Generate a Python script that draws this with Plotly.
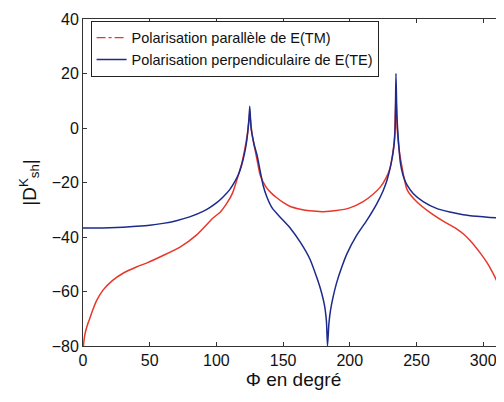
import plotly.graph_objects as go

# angle (degrees) and |D_sh^K| values
phi_tm = [0.3, 1, 2, 3.5, 5, 7.5, 10, 15, 22, 30, 40, 48, 60, 73, 85, 97.5, 103, 108,
          112, 116, 119, 121, 123, 124.5, 125, 125.5, 127, 129, 131, 133, 137, 141, 145,
          150, 155, 163, 170, 180, 190, 200, 210, 217, 223, 227, 230, 232, 233.5, 234.6,
          235.5, 237, 239, 241, 243, 250, 260, 270, 280, 285, 290, 298, 303, 307, 311, 315.5]
d_tm = [-80, -77, -74.5, -72, -70, -66.5, -63.5, -59.5, -56, -53.3, -51, -49.5, -46.8, -43.6,
        -39.3, -33, -30.8, -27.5, -24, -18, -13, -8.5, -3, 3, 6, 3, -3, -8, -13, -17.5,
        -21.5, -23.8, -25.5, -27.3, -28.7, -29.8, -30.4, -30.7, -30.3, -29.3, -27, -24.5,
        -21.6, -18.5, -15, -10, -4, 12, 0, -8, -14, -19, -22.7, -27, -31, -34.2, -37,
        -38.8, -41.2, -46, -49.5, -53, -57, -63]

phi_te = [0, 10, 20, 30, 40, 50, 60, 70, 80, 90, 95, 100, 105, 110, 114, 117, 119, 121,
          122.5, 123.5, 124.5, 125, 125.5, 126, 127, 128.5, 130.5, 132.5, 135, 138, 142,
          148, 155, 163, 170, 175, 178, 181, 182.5, 183.3, 184.3, 185.5, 187.5, 190, 194,
          198, 205, 213, 220, 225, 228, 231, 233, 234, 234.6, 235.3, 236.5, 238, 240, 243,
          247.5, 255, 265, 275, 285, 295, 305, 315.5]
d_te = [-36.7, -36.7, -36.6, -36.4, -36.1, -35.7, -35.0, -34.0, -32.6, -30.6, -29.2,
        -27.5, -25.3, -22.6, -19.5, -16.5, -13.5, -9.5, -5.5, -1.5, 4, 8, 4, 0, -3, -6.5,
        -10, -15, -21, -25.5, -29.5, -32.8, -36.5, -42, -48, -54.5, -59, -65, -71, -80,
        -72, -67, -62, -57, -51, -46, -39.5, -33.7, -28, -23, -19, -13, -7, 0, 20, 5, -5,
        -13, -17.5, -21, -24, -27, -29.5, -30.8, -31.8, -32.4, -32.8, -33]

RED = "#e8372a"
BLUE = "#1c2a8c"

fig = go.Figure()
# curve drawn solid (dense dash-dot in the original), legend sample shows the dash-dot
fig.add_trace(go.Scatter(x=phi_tm, y=d_tm, mode="lines", showlegend=False,
                         line=dict(color=RED, width=1.5, shape="spline", smoothing=0.6)))
fig.add_trace(go.Scatter(x=[None], y=[None], mode="lines", name="Polarisation parallèle de E(TM)",
                         line=dict(color=RED, width=1.2, dash="dashdot")))
fig.add_trace(go.Scatter(x=phi_te, y=d_te, mode="lines", name="Polarisation perpendiculaire de E(TE)",
                         line=dict(color=BLUE, width=1.5, shape="spline", smoothing=0.5)))

fig.update_layout(
    width=496, height=394,
    margin=dict(l=75, r=0, t=11, b=56),
    paper_bgcolor="white", plot_bgcolor="white",
    font=dict(family="Arial, Liberation Sans", size=16, color="#111"),
    legend=dict(x=0.018, y=0.995, xanchor="left", yanchor="top",
                bordercolor="#222", borderwidth=1, bgcolor="white",
                font=dict(size=14.5), tracegroupgap=0, itemwidth=30),
    showlegend=True,
)
fig.update_xaxes(range=[0, 315.6], tickvals=[0, 50, 100, 150, 200, 250, 300],
                 showline=True, linecolor="#333", linewidth=1, mirror="ticks",
                 ticks="inside", ticklen=4, tickcolor="#333", showgrid=False, zeroline=False,
                 title=dict(text="Φ en degré", standoff=4))
fig.update_yaxes(range=[-80, 40], tickvals=[-80, -60, -40, -20, 0, 20, 40],
                 showline=True, linecolor="#333", linewidth=1,
                 ticks="inside", ticklen=4, tickcolor="#333", showgrid=False, zeroline=False,
                 title=dict(text="|D<sup>K</sup><sub>sh</sub>|", standoff=10))

fig.write_html("out.html")
